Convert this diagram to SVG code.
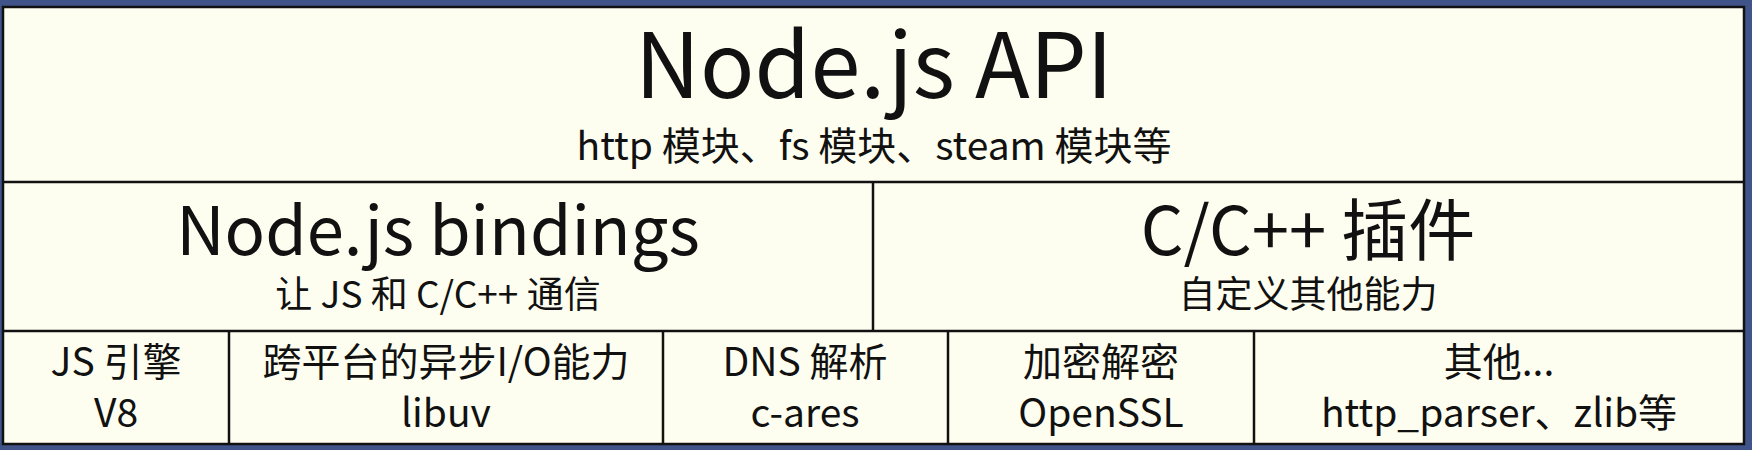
<svg xmlns="http://www.w3.org/2000/svg" width="1752" height="450" viewBox="0 0 1752 450">
<style>
  .t { font-family: "Noto Sans CJK SC", "Noto Sans", sans-serif; fill: #111; text-anchor: middle; }
  .big { font-size: 90px; }
  .h2 { font-size: 67px; }
  .sub { font-size: 39px; }
  .sub2 { font-size: 37px; }
  .cell { font-size: 39px; }
  .ln { stroke: #111; stroke-width: 2.5; fill: none; }
</style>
<rect x="0" y="0" width="1752" height="450" fill="#41548a"/>
<rect x="3" y="7" width="1741" height="437" fill="#fefef0" stroke="#111" stroke-width="2.5"/>
<g id="connectors">
  <line class="ln" x1="3" y1="182" x2="1744" y2="182"/>
  <line class="ln" x1="3" y1="331" x2="1744" y2="331"/>
  <line class="ln" x1="873" y1="182" x2="873" y2="331"/>
  <line class="ln" x1="229" y1="331" x2="229" y2="444"/>
  <line class="ln" x1="663" y1="331" x2="663" y2="444"/>
  <line class="ln" x1="948" y1="331" x2="948" y2="444"/>
  <line class="ln" x1="1254" y1="331" x2="1254" y2="444"/>
</g>
<g id="node-api">
  <text class="t big" x="874" y="98">Node.js API</text>
  <text class="t sub" x="874" y="160">http 模块、fs 模块、steam 模块等</text>
</g>
<g id="node-bindings">
  <text class="t h2" x="438" y="255">Node.js bindings</text>
  <text class="t sub2" x="438" y="308">让 JS 和 C/C++ 通信</text>
</g>
<g id="node-addons">
  <text class="t h2" x="1308" y="255">C/C++ 插件</text>
  <text class="t sub2" x="1308" y="308">自定义其他能力</text>
</g>
<g id="node-v8">
  <text class="t cell" x="116" y="376">JS 引擎</text>
  <text class="t cell" x="116" y="427">V8</text>
</g>
<g id="node-libuv">
  <text class="t cell" x="446" y="376">跨平台的异步I/O能力</text>
  <text class="t cell" x="446" y="427">libuv</text>
</g>
<g id="node-cares">
  <text class="t cell" x="805" y="376">DNS 解析</text>
  <text class="t cell" x="805" y="427">c-ares</text>
</g>
<g id="node-openssl">
  <text class="t cell" x="1101" y="376">加密解密</text>
  <text class="t cell" x="1101" y="427">OpenSSL</text>
</g>
<g id="node-other">
  <text class="t cell" x="1499" y="376">其他...</text>
  <text class="t cell" x="1499" y="427">http_parser、zlib等</text>
</g>
</svg>
